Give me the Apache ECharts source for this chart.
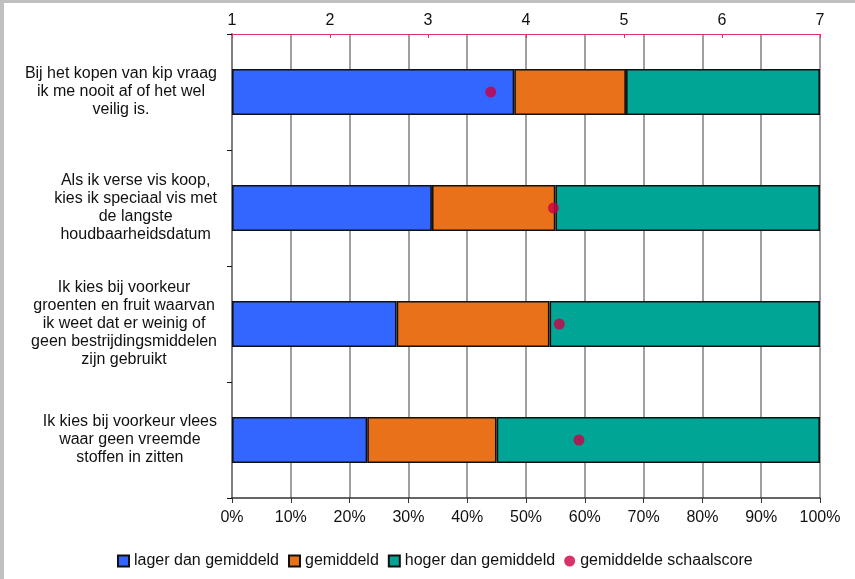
<!DOCTYPE html>
<html>
<head>
<meta charset="utf-8">
<script src="https://cdn.jsdelivr.net/npm/echarts@6/dist/echarts.min.js"></script>
<style>
html,body{margin:0;padding:0;background:#fff;}
#chart{width:855px;height:579px;position:relative;}
#bl{position:absolute;left:0;top:0;width:4px;height:579px;background:#c0c0c0;z-index:5;}
#bt{position:absolute;left:0;top:0;width:855px;height:3px;background:#c0c0c0;z-index:5;}
</style>
</head>
<body>
<div id="bl"></div><div id="bt"></div>
<div id="chart"></div>
<script>
const categories = [
  "Bij het kopen van kip vraag\nik me nooit af of het wel\nveilig is.",
  "Als ik verse vis koop,\nkies ik speciaal vis met\nde langste\nhoudbaarheidsdatum",
  "Ik kies bij voorkeur\ngroenten en fruit waarvan\nik weet dat er weinig of\ngeen bestrijdingsmiddelen\nzijn gebruikt",
  "Ik kies bij voorkeur vlees\nwaar geen vreemde\nstoffen in zitten"
];
const lager = [48, 34, 28, 23];
const gemiddeld = [19, 21, 26, 22];
const hoger = [33, 45, 46, 55];
const schaalscore = [3.64, 4.28, 4.34, 4.54];
const seriesNames = ["lager dan gemiddeld", "gemiddeld", "hoger dan gemiddeld", "gemiddelde schaalscore"];
const pctTicks = ["0%","10%","20%","30%","40%","50%","60%","70%","80%","90%","100%"];

const FONT = '"Liberation Sans Narrow", "Liberation Sans", sans-serif';
const chart = echarts.init(document.getElementById('chart'));
const barStyle = (c) => ({color: c, borderColor: '#111', borderWidth: 1.6});
const option = {
  animation: false,
  textStyle: {fontFamily: FONT},
  grid: {left: 232, right: 35, top: 34, bottom: 81, containLabel: false},
  legend: {
    bottom: 5, left: 112, itemWidth: 11, itemHeight: 11, itemGap: 9,
    textStyle: {fontFamily: FONT, fontSize: 16, color: '#111'},
    data: [
      {name: seriesNames[0], icon: 'rect'},
      {name: seriesNames[1], icon: 'rect'},
      {name: seriesNames[2], icon: 'rect'},
      {name: seriesNames[3], icon: 'circle'}
    ]
  },
  xAxis: [
    {
      type: 'value', position: 'bottom', min: 0, max: 100, interval: 10,
      axisLine: {show: true, lineStyle: {color: '#333', width: 1.5}},
      axisTick: {show: true, length: 5, lineStyle: {color: '#333'}},
      axisLabel: {fontSize: 16, color: '#111', margin: 12, formatter: (v) => pctTicks[Math.round(v/10)]},
      splitLine: {show: true, lineStyle: {color: '#808080', width: 1.5}}
    },
    {
      type: 'value', position: 'top', min: 1, max: 7, interval: 1,
      axisLine: {show: true, lineStyle: {color: '#e0306a', width: 1.2}},
      axisTick: {show: true, inside: true, length: 4, lineStyle: {color: '#e0306a'}},
      axisLabel: {fontSize: 16, color: '#111', margin: 5},
      splitLine: {show: false}
    }
  ],
  yAxis: {
    type: 'category', inverse: true, data: categories,
    axisLine: {show: true, lineStyle: {color: '#808080', width: 2}},
    axisTick: {show: true, length: 5, lineStyle: {color: '#111'}},
    axisLabel: {
      margin: 15, color: '#111',
      formatter: (v) => v.split('\n').map(l => '{c|' + l + '}').join('\n'),
      rich: {c: {align: 'center', fontSize: 16, lineHeight: 18, fontFamily: FONT, color: '#111'}}
    }
  },
  series: [
    {name: seriesNames[0], type: 'bar', stack: 's', barWidth: 46, data: lager, itemStyle: barStyle('#3366ff')},
    {name: seriesNames[1], type: 'bar', stack: 's', barWidth: 46, data: gemiddeld, itemStyle: barStyle('#e87119')},
    {name: seriesNames[2], type: 'bar', stack: 's', barWidth: 46, data: hoger, itemStyle: barStyle('#00a595')},
    {name: seriesNames[3], type: 'scatter', xAxisIndex: 1, symbol: 'circle', symbolSize: 11, z: 5,
     data: schaalscore.map((v, i) => [v, i]), itemStyle: {color: '#cc0044'}}
  ]
};
chart.setOption(option);
</script>
</body>
</html>
